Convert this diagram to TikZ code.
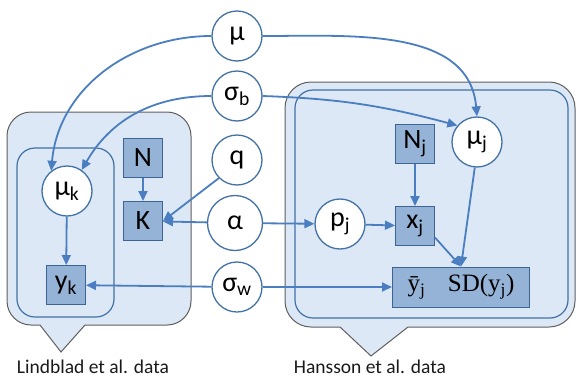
\documentclass[tikz,border=0pt]{standalone}
\usepackage{fontspec}
\setmainfont{Carlito}
\newfontfamily\timesfont{Liberation Serif}
\usetikzlibrary{arrows.meta, positioning, backgrounds}

\definecolor{platefill}{RGB}{220,232,245}
\definecolor{outline}{RGB}{95,95,95}
\definecolor{plateline}{RGB}{65,113,165}
\definecolor{circline}{RGB}{65,113,165}
\definecolor{boxfill}{RGB}{149,179,215}
\definecolor{boxline}{RGB}{60,100,150}
\definecolor{arrowcol}{RGB}{74,126,193}

\begin{document}
\begin{tikzpicture}[
    x=1pt, y=-1pt,
    % Node styles
    var/.style={
        circle, draw=circline, fill=white, line width=1.3pt,
        minimum size=50pt, inner sep=0pt,
        font=\fontsize{28}{30}\selectfont
    },
    obs/.style={
        rectangle, draw=boxline, fill=boxfill, line width=1pt,
        minimum width=39pt, minimum height=39pt, inner sep=0pt,
        font=\fontsize{28}{30}\selectfont
    },
    link/.style={
        -{Triangle[length=10pt, width=9pt]}, line width=1.8pt, arrowcol
    },
    callout/.style={
        draw=outline, fill=platefill, line width=1pt
    },
    plate/.style={
        draw=plateline, line width=1.2pt, rounded corners=18pt
    },
    caption/.style={
        font=\fontsize{19.5}{22}\selectfont, text=black!90
    }
]
\useasboundingbox (0,0) rectangle (576,378);

% --- Plates ---
\path[callout] (61,352) -- (85,325) [rounded corners=24pt] -- (191,325) -- (191,112)
    -- (7,112) -- (7,325) [sharp corners] -- (40,325) -- cycle;
\draw[plate] (17,148) rectangle (114,317);

\path[callout] (371,356) -- (408,327) [rounded corners=26pt] -- (575,327) -- (575,82)
    -- (285,82) -- (285,327) [sharp corners] -- (340,327) -- cycle;
\draw[plate] (295,90) rectangle (568,318);

% --- Nodes ---
\node[var] (mu) at (237,36) {μ};
\node[var] (sigb) at (237,96) {σ\textsubscript{b}};
\node[var] (q) at (237,160) {q};
\node[var, minimum size=55pt] (alpha) at (235,223) {α};
\node[var] (sigw) at (237,287) {σ\textsubscript{w}};

\node[var] (muk) at (67,191) {μ\textsubscript{k}};
\node[obs] (yk) at (66,285) {y\textsubscript{k}};
\node[obs] (N) at (143,158) {N};
\node[obs] (K) at (143,221) {K};

\node[obs] (Nj) at (415,144) {N\textsubscript{j}};
\node[var] (muj) at (477,142) {μ\textsubscript{j}};
\node[var] (pj) at (340,224) {p\textsubscript{j}};
\node[obs] (xj) at (415,226) {x\textsubscript{j}};
\node[obs, minimum width=137pt, minimum height=40pt,
    font=\timesfont\fontsize{25}{28}\selectfont] (ybar) at (461,287)
    {\={y}\textsubscript{j}\hspace{0.9em}SD(y\textsubscript{j})};

% --- Arrows ---
\draw[link] (mu.west) to[out=180, in=85] (muk.128);
\draw[link] (sigb.west) to[out=180, in=60] (muk.55);
\draw[link] (mu.east) to[out=0, in=95] (muj.north);
\draw[link] (sigb.east) to[out=-2, in=165] (muj.140);

\draw[link] (N) -- (K);
\draw[link] (q.225) -- (K.east);
\draw[link] (alpha) -- (K);
\draw[link] (muk) -- (yk);
\draw[link] (sigw) -- (yk);

\draw[link] (alpha) -- (pj);
\draw[link] (pj) -- (xj);
\draw[link] (Nj) -- (xj);
\draw[link] (xj.-30) -- (ybar.north);
\draw[link] (muj.265) -- (ybar.north);
\draw[link] (sigw) -- (ybar);

% --- Captions ---
\node[caption] (lindblad) at (93,367) {Lindblad et al. data};
\node[caption] (hansson) at (370,367) {Hansson et al. data};

\end{tikzpicture}
\end{document}
